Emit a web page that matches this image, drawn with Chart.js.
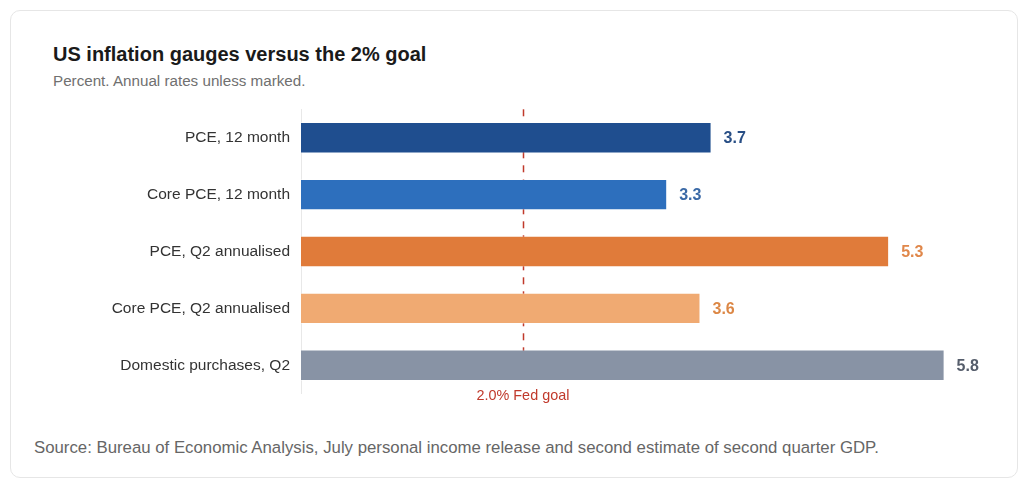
<!DOCTYPE html>
<html>
<head>
<meta charset="utf-8">
<script src="https://cdn.jsdelivr.net/npm/chart.js@4.4.1/dist/chart.umd.min.js"></script>
<style>
    html, body { margin: 0; padding: 0; background: #ffffff; }
    body { width: 1024px; height: 483px; position: relative; font-family: "Liberation Sans", Arial, sans-serif; overflow: hidden; }
    .card { position: absolute; left: 10px; top: 10px; width: 1006px; height: 466px; border: 1px solid #e6e6e6; border-radius: 10px; }
    .title { position: absolute; left: 53px; top: 43px; font-size: 20px; font-weight: bold; color: #1a1a1a; white-space: nowrap; }
    .subtitle { position: absolute; left: 53px; top: 72px; font-size: 15.2px; color: #707070; white-space: nowrap; }
    .source { position: absolute; left: 34px; top: 438px; font-size: 16.8px; color: #666666; white-space: nowrap; }
    .wrap { position: absolute; left: 0; top: 89px; width: 1024px; height: 325px; }
</style>
</head>
<body>
<div class="card"></div>
<div class="title">US inflation gauges versus the 2% goal</div>
<div class="subtitle">Percent. Annual rates unless marked.</div>
<div class="wrap"><canvas id="gaugeChart"></canvas></div>
<div class="source">Source: Bureau of Economic Analysis, July personal income release and second estimate of second quarter GDP.</div>

<script>
        // Inflation measures and their rates (percent)
        const categories = [
            'PCE, 12 month',
            'Core PCE, 12 month',
            'PCE, Q2 annualised',
            'Core PCE, Q2 annualised',
            'Domestic purchases, Q2',
        ];
        const rates = [3.7, 3.3, 5.3, 3.6, 5.8];
        const fedGoal = 2.0;

        const barColors = ['#1f4e8f', '#2d6fbd', '#e07b3a', '#f0aa72', '#8893a5'];
        const labelColors = ['#284e85', '#3a69a6', '#e0874a', '#dc8745', '#555d6b'];

        // Dashed 2% goal line plus its caption, drawn behind the bars
        const goalLine = {
            id: 'goalLine',
            beforeDatasetsDraw(chart) {
                const { ctx, chartArea, scales } = chart;
                const x = Math.round(scales.x.getPixelForValue(fedGoal)) + 0.5;
                const bars = chart.getDatasetMeta(0).data;
                const last = bars[bars.length - 1];
                ctx.save();
                ctx.strokeStyle = '#c0392b';
                ctx.lineWidth = 1.5;
                ctx.setLineDash([7, 7]);
                ctx.beginPath();
                ctx.moveTo(x, chartArea.top);
                ctx.lineTo(x, last.y);
                ctx.stroke();
                ctx.restore();
            },
            afterDraw(chart) {
                const { ctx, chartArea, scales } = chart;
                const x = scales.x.getPixelForValue(fedGoal);
                ctx.save();
                ctx.fillStyle = '#c0392b';
                ctx.font = '14.4px "Liberation Sans", Arial, sans-serif';
                ctx.textAlign = 'center';
                ctx.textBaseline = 'middle';
                ctx.fillText(fedGoal.toFixed(1) + '% Fed goal', x, chartArea.bottom + 2);
                ctx.restore();
            }
        };

        // Value labels at the end of each bar
        const valueLabels = {
            id: 'valueLabels',
            afterDatasetsDraw(chart) {
                const { ctx } = chart;
                ctx.save();
                ctx.font = 'bold 16px "Liberation Sans", Arial, sans-serif';
                ctx.textAlign = 'left';
                ctx.textBaseline = 'middle';
                chart.getDatasetMeta(0).data.forEach((bar, i) => {
                    ctx.fillStyle = labelColors[i];
                    ctx.fillText(rates[i].toFixed(1), bar.x + 12, bar.y + 1);
                });
                ctx.restore();
            }
        };

        const ctx = document.getElementById('gaugeChart').getContext('2d');

        new Chart(ctx, {
            type: 'bar',
            data: {
                labels: categories,
                datasets: [{
                    data: rates,
                    backgroundColor: barColors,
                    borderColor: 'rgba(255,255,255,0.35)',
                    borderWidth: 1,
                    barPercentage: 0.55,
                    categoryPercentage: 1.0,
                }]
            },
            options: {
                indexAxis: 'y',
                responsive: true,
                maintainAspectRatio: false,
                animation: false,
                layout: { padding: { top: 8, bottom: 16, right: 35, left: 0 } },
                plugins: {
                    legend: { display: false },
                    tooltip: { enabled: false }
                },
                scales: {
                    x: {
                        display: false,
                        min: 0,
                        max: 6.2,
                    },
                    y: {
                        grid: { display: false, drawTicks: false },
                        border: { display: true, color: '#e8e8e8', width: 1 },
                        ticks: {
                            padding: 11,
                            color: '#333333',
                            font: { size: 15.5, family: '"Liberation Sans", Arial, sans-serif' }
                        },
                        afterFit(scale) { scale.width = 301; }
                    }
                }
            },
            plugins: [goalLine, valueLabels]
        });
</script>
</body>
</html>
